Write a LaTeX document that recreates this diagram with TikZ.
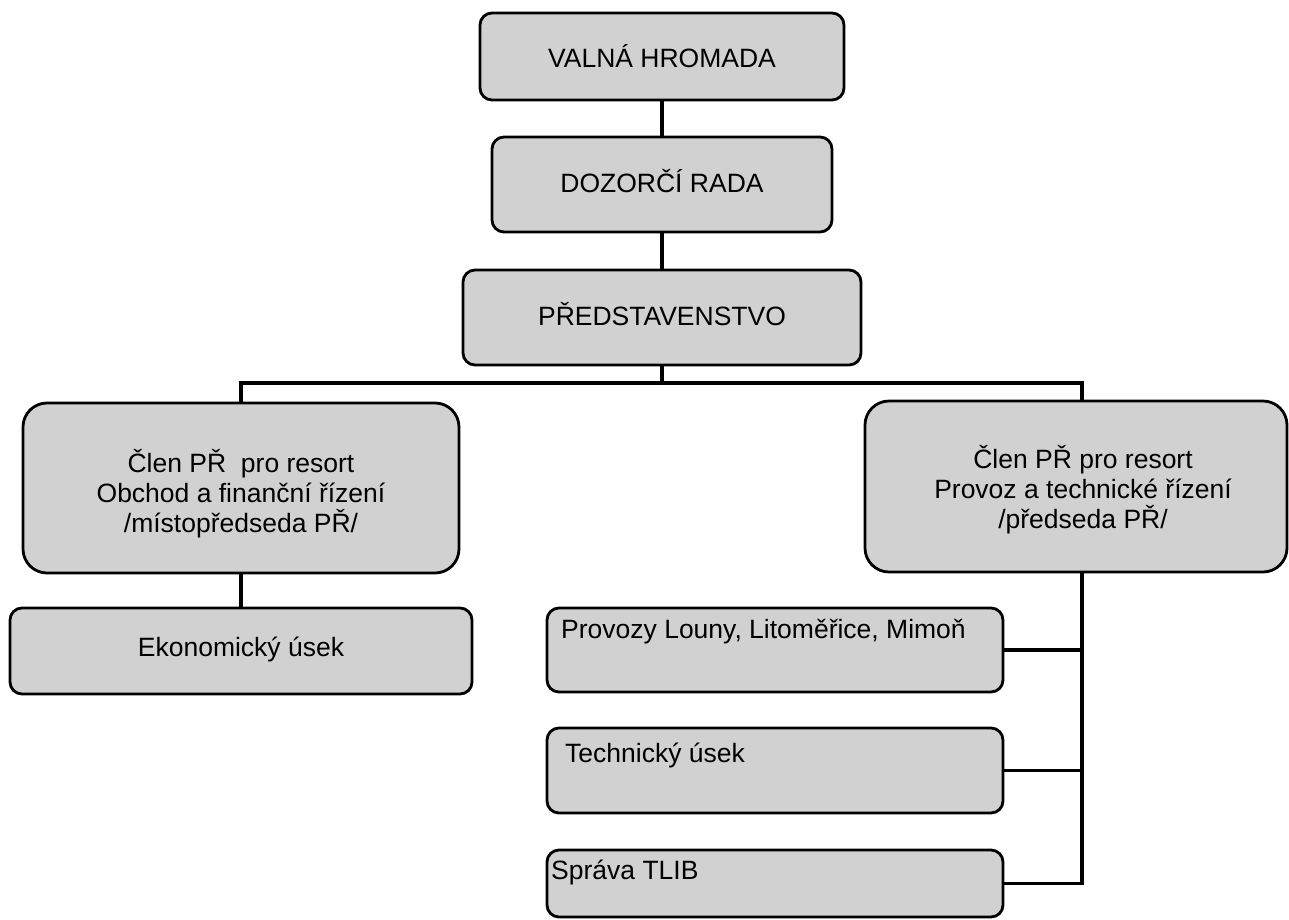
\documentclass[tikz,border=0pt]{standalone}
\usepackage{fontspec}
\setmainfont{Liberation Sans}
\begin{document}
\begin{tikzpicture}[x=1pt,y=-1pt,
  box/.style={draw=black, line width=2.8pt, fill=black!18, rounded corners=12pt, inner sep=0pt},
  bigbox/.style={box, rounded corners=24pt},
  lbl/.style={font=\fontsize{26.5}{30}\selectfont, align=center, inner sep=0pt},
  link/.style={draw=black, line width=3.6pt}]
\useasboundingbox (0,0) rectangle (1289,919);
\node[box, minimum width=364pt, minimum height=87pt] (vh) at (662,56.5) {};
\node[lbl] (vht) at (662,56) {VALNÁ HROMADA};
\node[box, minimum width=340pt, minimum height=95pt] (dr) at (662,184.5) {};
\node[lbl] (drt) at (662,181) {DOZORČÍ RADA};
\node[box, minimum width=398pt, minimum height=95pt] (pr) at (662,317.5) {};
\node[lbl] (prt) at (662,314) {PŘEDSTAVENSTVO};
\node[bigbox, minimum width=436pt, minimum height=170pt] (L) at (241,488) {};
\node[lbl] (Lt) at (241,494) {Člen PŘ\ \ pro resort\\Obchod a finanční řízení\\/místopředseda PŘ/};
\node[bigbox, minimum width=422pt, minimum height=171pt] (R) at (1076,486.5) {};
\node[lbl] (Rt) at (1083,490) {Člen PŘ pro resort\\Provoz a technické řízení\\/předseda PŘ/};
\node[box, minimum width=462pt, minimum height=86pt] (E) at (241,651) {};
\node[lbl] (Et) at (241,649) {Ekonomický úsek};
\node[box, minimum width=456pt, minimum height=84pt] (p1) at (775,650) {};
\node[lbl, anchor=west] (p1t) at (561,632) {Provozy Louny, Litoměřice, Mimoň};
\node[box, minimum width=456pt, minimum height=85pt] (p2) at (775,770.5) {};
\node[lbl, anchor=west] (p2t) at (565,755) {Technický úsek};
\node[box, minimum width=456pt, minimum height=67pt] (p3) at (775,883.5) {};
\node[lbl, anchor=west] (p3t) at (551,872) {Správa TLIB};
\coordinate (bus) at (662,383);
\coordinate (rt) at (1082,383);
\draw[link] (vh.south) -- (dr.north);
\draw[link] (dr.south) -- (pr.north);
\draw[link] (pr.south) -- (bus);
\draw[link] (L.north) |- (rt) -- (rt |- R.north);
\draw[link] (L.south) -- (E.north);
\draw[link] (rt |- R.south) -- (rt |- p3.east) -- (p3.east);
\draw[link] (p1.east) -- (p1.east -| rt);
\draw[link] (p2.east) -- (p2.east -| rt);
\end{tikzpicture}
\end{document}
